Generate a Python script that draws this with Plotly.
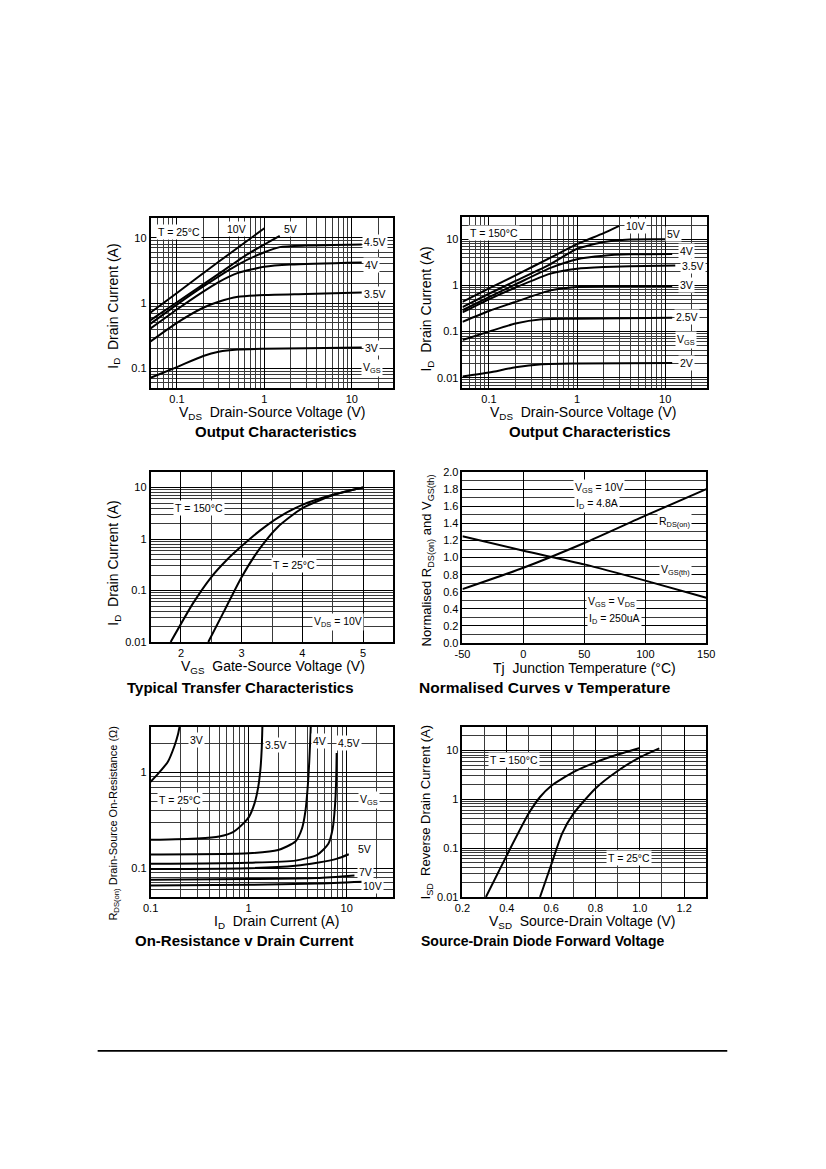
import math
import plotly.graph_objects as go

W, H = 826, 1169
FONT = "Liberation Sans, Arial, sans-serif"

# ---- Output Characteristics, T = 25C (VDS in V, ID in A) ----
oc25_vds_10v = [0.05, 0.1, 0.3, 1.0]
oc25_id_10v = [0.72, 1.43, 4.3, 14.0]
oc25_vds_5v = [0.05, 0.1, 0.3, 0.6, 1.0, 1.5]
oc25_id_5v = [0.55, 1.03, 2.8, 5.3, 7.9, 10.7]
oc25_vds_45v = [0.05, 0.1, 0.2, 0.5, 1.0, 1.5, 3.0, 13.0]
oc25_id_45v = [0.485, 0.95, 1.8, 3.9, 6.0, 7.2, 7.6, 7.9]
oc25_vds_4v = [0.05, 0.1, 0.2, 0.3, 0.5, 1.0, 2.0, 13.0]
oc25_id_4v = [0.41, 0.8, 1.5, 2.1, 2.9, 3.6, 3.9, 4.2]
oc25_vds_35v = [0.05, 0.1, 0.2, 0.3, 0.5, 1.0, 3.0, 13.0]
oc25_id_35v = [0.26, 0.5, 0.85, 1.05, 1.25, 1.33, 1.38, 1.45]
oc25_vds_3v = [0.05, 0.1, 0.2, 0.3, 0.5, 1.0, 3.0, 13.0]
oc25_id_3v = [0.072, 0.105, 0.155, 0.18, 0.195, 0.2, 0.203, 0.21]

# ---- Output Characteristics, T = 150C ----
oc150_vds_10v = [0.05, 0.1, 0.2, 0.5, 1.0, 2.0, 3.0]
oc150_id_10v = [0.44, 0.86, 1.65, 4.0, 7.8, 13.5, 19.5]
oc150_vds_5v = [0.05, 0.1, 0.2, 0.5, 1.0, 2.0, 4.0, 12.0]
oc150_id_5v = [0.34, 0.66, 1.25, 2.9, 6.2, 8.7, 9.9, 10.0]
oc150_vds_4v = [0.05, 0.1, 0.2, 0.5, 1.0, 2.0, 4.0, 12.0]
oc150_id_4v = [0.29, 0.56, 1.05, 2.4, 3.7, 4.4, 4.7, 4.8]
oc150_vds_35v = [0.05, 0.1, 0.2, 0.5, 1.0, 2.0, 4.0, 13.0]
oc150_id_35v = [0.26, 0.5, 0.9, 1.8, 2.3, 2.5, 2.6, 2.7]
oc150_vds_3v = [0.05, 0.1, 0.2, 0.5, 1.0, 2.0, 12.0]
oc150_id_3v = [0.163, 0.28, 0.44, 0.78, 0.92, 0.96, 0.97]
oc150_vds_25v = [0.05, 0.1, 0.2, 0.4, 1.0, 12.0]
oc150_id_25v = [0.066, 0.1, 0.15, 0.185, 0.19, 0.2]
oc150_vds_2v = [0.05, 0.1, 0.2, 0.4, 1.0, 12.0]
oc150_id_2v = [0.0107, 0.013, 0.017, 0.0197, 0.0204, 0.021]

# ---- Typical Transfer Characteristics (VGS in V, ID in A) ----
tr150_vgs = [1.83, 2.2, 2.5, 2.75, 3.0, 3.3, 3.6, 4.0, 4.5, 5.0]
tr150_id = [0.01, 0.057, 0.183, 0.387, 0.73, 1.46, 2.62, 4.62, 7.24, 10.0]
tr25_vgs = [2.45, 2.7, 3.0, 3.3, 3.6, 4.0, 4.5, 5.0]
tr25_id = [0.01, 0.0376, 0.184, 0.66, 1.74, 3.98, 7.1, 10.0]

# ---- Normalised curves v temperature ----
tj = [-50, 0, 50, 100, 150]
rds_norm = [0.63, 0.88, 1.17, 1.49, 1.80]
vgsth_norm = [1.25, 1.08, 0.92, 0.73, 0.53]

# ---- On-resistance v drain current (ID in A, RDS in ohm) ----
ron_id_3v = [0.1, 0.12, 0.15, 0.175, 0.19, 0.197]
ron_r_3v = [0.8, 0.98, 1.3, 1.9, 2.5, 3.0]
ron_id_35v = [0.1, 0.3, 0.5, 0.7, 0.9, 1.0, 1.15, 1.25, 1.32, 1.36, 1.38]
ron_r_35v = [0.198, 0.205, 0.215, 0.24, 0.3, 0.34, 0.48, 0.7, 1.1, 1.8, 3.0]
ron_id_4v = [0.1, 1.0, 2.0, 3.0, 3.5, 3.8, 4.0, 4.15, 4.25, 4.3]
ron_r_4v = [0.139, 0.143, 0.155, 0.19, 0.26, 0.4, 0.7, 1.3, 2.2, 3.0]
ron_id_45v = [0.1, 1.0, 3.0, 5.0, 6.5, 7.2, 7.6, 7.8, 7.9]
ron_r_45v = [0.111, 0.114, 0.12, 0.138, 0.18, 0.26, 0.45, 0.8, 1.6]
ron_id_5v = [0.1, 1.0, 3.0, 5.0, 8.0, 10.5]
ron_r_5v = [0.098, 0.1, 0.106, 0.114, 0.126, 0.14]
ron_id_7v = [0.1, 1.0, 5.0, 12.0]
ron_r_7v = [0.0755, 0.077, 0.079, 0.084]
ron_id_10v = [0.1, 1.0, 5.0, 14.5]
ron_r_10v = [0.066, 0.067, 0.069, 0.072]

# ---- Source-drain diode forward voltage (VSD in V, ISD in A) ----
sd150_vsd = [0.306, 0.4, 0.5, 0.55, 0.6, 0.7, 0.8, 0.9, 1.0]
sd150_isd = [0.01, 0.071, 0.52, 1.11, 1.87, 3.57, 5.66, 8.2, 11.2]
sd25_vsd = [0.55, 0.6, 0.65, 0.7, 0.8, 0.9, 1.0, 1.088]
sd25_isd = [0.01, 0.045, 0.2, 0.5, 1.66, 3.78, 7.2, 11.0]


# the photographed page comes out slightly shrunk about its centre,
# so page positions are pre-corrected before going to paper coords
SX, OX = 0.98, 8.3
SY, OY = 0.99, 5.8


def px(x):
    return (x - OX) / SX / W


def py(y):
    return 1 - (y - OY) / SY / H


def log_grid(lo_exp, hi_exp, stop):
    vals = []
    for e in range(lo_exp, hi_exp + 1):
        for d in range(1, 10):
            v = d * 10 ** e
            if v <= stop * 1.0001:
                vals.append(round(v, 6))
    return vals


def frame(dom, anchor):
    return dict(
        domain=dom,
        anchor=anchor,
        showline=True,
        mirror=True,
        linecolor="black",
        linewidth=1.6,
        ticks="",
        zeroline=False,
        showgrid=True,
        gridcolor="black",
        gridwidth=1.1,
        tickfont=dict(family=FONT, size=11, color="black"),
    )


def log_axis(dom, anchor, lo, hi, labels, texts, grid):
    ax = frame(dom, anchor)
    ax.update(
        type="log",
        range=[math.log10(lo), math.log10(hi)],
        tickmode="array",
        tickvals=labels,
        ticktext=texts,
        minor=dict(tickmode="array", tickvals=grid, showgrid=True,
                   gridcolor="#3a3a3a", gridwidth=0.7, ticks=""),
    )
    return ax


def lin_axis(dom, anchor, lo, hi, labels, texts, grid):
    ax = frame(dom, anchor)
    ax.update(
        type="linear",
        range=[lo, hi],
        tickmode="array",
        tickvals=labels,
        ticktext=texts,
        minor=dict(tickmode="array", tickvals=grid, showgrid=True,
                   gridcolor="#3a3a3a", gridwidth=0.8, ticks=""),
    )
    return ax


# plot boxes in page pixels (left, right, top, bottom)
boxes = {
    1: (151, 394, 218, 388),
    2: (463, 708, 217, 388),
    3: (151, 394, 472, 642),
    4: (463, 707, 472, 643),
    5: (151, 394, 727, 897),
    6: (463, 707, 727, 897),
}


def dom(n):
    l, r, t, b = boxes[n]
    return [px(l), px(r)], [py(b), py(t)]


fig = go.Figure()


def curve(n, xs, ys):
    sfx = "" if n == 1 else str(n)
    fig.add_trace(go.Scatter(
        x=xs, y=ys, mode="lines", xaxis="x" + sfx, yaxis="y" + sfx,
        line=dict(color="black", width=2, shape="spline", smoothing=0.6),
        showlegend=False, hoverinfo="skip",
    ))


for xs, ys in [(oc25_vds_10v, oc25_id_10v), (oc25_vds_5v, oc25_id_5v),
               (oc25_vds_45v, oc25_id_45v), (oc25_vds_4v, oc25_id_4v),
               (oc25_vds_35v, oc25_id_35v), (oc25_vds_3v, oc25_id_3v)]:
    curve(1, xs, ys)
for xs, ys in [(oc150_vds_10v, oc150_id_10v), (oc150_vds_5v, oc150_id_5v),
               (oc150_vds_4v, oc150_id_4v), (oc150_vds_35v, oc150_id_35v),
               (oc150_vds_3v, oc150_id_3v), (oc150_vds_25v, oc150_id_25v),
               (oc150_vds_2v, oc150_id_2v)]:
    curve(2, xs, ys)
curve(3, tr150_vgs, tr150_id)
curve(3, tr25_vgs, tr25_id)
curve(4, tj, rds_norm)
curve(4, tj, vgsth_norm)
for xs, ys in [(ron_id_3v, ron_r_3v), (ron_id_35v, ron_r_35v),
               (ron_id_4v, ron_r_4v), (ron_id_45v, ron_r_45v),
               (ron_id_5v, ron_r_5v), (ron_id_7v, ron_r_7v),
               (ron_id_10v, ron_r_10v)]:
    curve(5, xs, ys)
curve(6, sd150_vsd, sd150_isd)
curve(6, sd25_vsd, sd25_isd)

layout = dict(
    width=W, height=H,
    margin=dict(l=0, r=0, t=0, b=0),
    paper_bgcolor="white", plot_bgcolor="white",
    font=dict(family=FONT, color="black"),
)

dx, dy = dom(1)
layout["xaxis"] = log_axis(dx, "y", 0.05, 30, [0.1, 1, 10], ["0.1", "1", "10"], log_grid(-2, 1, 30))
layout["yaxis"] = log_axis(dy, "x", 0.05, 20, [0.1, 1, 10], ["0.1", "1", "10"], log_grid(-2, 1, 20))
dx, dy = dom(2)
layout["xaxis2"] = log_axis(dx, "y2", 0.05, 30, [0.1, 1, 10], ["0.1", "1", "10"], log_grid(-2, 1, 30))
layout["yaxis2"] = log_axis(dy, "x2", 0.006, 30, [0.01, 0.1, 1, 10], ["0.01", "0.1", "1", "10"], log_grid(-3, 1, 30))
dx, dy = dom(3)
layout["xaxis3"] = lin_axis(dx, "y3", 1.5, 5.5, [2, 3, 4, 5], ["2", "3", "4", "5"], [1.5, 2.5, 3.5, 4.5, 5.5])
layout["yaxis3"] = log_axis(dy, "x3", 0.01, 20, [0.01, 0.1, 1, 10], ["0.01", "0.1", "1", "10"], log_grid(-2, 1, 20))
dx, dy = dom(4)
layout["xaxis4"] = lin_axis(dx, "y4", -50, 150, [-50, 0, 50, 100, 150], ["-50", "0", "50", "100", "150"], [])
y4_ticks = [0.0, 0.2, 0.4, 0.6, 0.8, 1.0, 1.2, 1.4, 1.6, 1.8, 2.0]
layout["yaxis4"] = lin_axis(dy, "x4", 0, 2, y4_ticks, ["%.1f" % v for v in y4_ticks],
                            [0.1, 0.3, 0.5, 0.7, 0.9, 1.1, 1.3, 1.5, 1.7, 1.9])
dx, dy = dom(5)
layout["xaxis5"] = log_axis(dx, "y5", 0.1, 30, [0.1, 1, 10], ["0.1", "1", "10"], log_grid(-1, 1, 30))
layout["yaxis5"] = log_axis(dy, "x5", 0.05, 3, [0.1, 1], ["0.1", "1"], log_grid(-2, 0, 3))
dx, dy = dom(6)
x6_ticks = [0.2, 0.4, 0.6, 0.8, 1.0, 1.2]
layout["xaxis6"] = lin_axis(dx, "y6", 0.2, 1.3, x6_ticks, ["0.2", "0.4", "0.6", "0.8", "1.0", "1.2"],
                            [0.3, 0.5, 0.7, 0.9, 1.1, 1.3])
layout["yaxis6"] = log_axis(dy, "x6", 0.01, 30, [0.01, 0.1, 1, 10], ["0.01", "0.1", "1", "10"], log_grid(-2, 1, 30))

fig.update_layout(**layout)

annotations = []


def lab(n, x, y, text, size=10.5, log_x=True, log_y=True):
    sfx = "" if n == 1 else str(n)
    annotations.append(dict(
        x=math.log10(x) if log_x else x, y=math.log10(y) if log_y else y,
        xref="x" + sfx, yref="y" + sfx, text=text, showarrow=False,
        bgcolor="white", borderpad=1,
        font=dict(family=FONT, size=size, color="black"),
    ))


def page_text(x, y, text, size=14, bold=False, angle=0):
    annotations.append(dict(
        x=px(x), y=py(y), xref="paper", yref="paper",
        text="<b>%s</b>" % text if bold else text, showarrow=False,
        textangle=angle, xanchor="center", yanchor="middle",
        font=dict(family=FONT, size=size, color="black"),
    ))


# chart 1 labels
lab(1, 0.107, 12.3, "T = 25°C")
lab(1, 0.48, 13.8, "10V")
lab(1, 2.0, 13.8, "5V")
lab(1, 18.5, 8.7, "4.5V")
lab(1, 17.0, 3.8, "4V")
lab(1, 18.5, 1.39, "3.5V")
lab(1, 17.0, 0.207, "3V")
lab(1, 17.0, 0.103, "V<sub>GS</sub>")
# chart 2 labels
lab(2, 0.115, 13.5, "T = 150°C")
lab(2, 4.56, 18.9, "10V")
lab(2, 12.4, 12.9, "5V")
lab(2, 17.6, 5.66, "4V")
lab(2, 20.9, 2.6, "3.5V")
lab(2, 17.6, 1.0, "3V")
lab(2, 17.6, 0.209, "2.5V")
lab(2, 17.0, 0.066, "V<sub>GS</sub>")
lab(2, 17.6, 0.0209, "2V")
# chart 3 labels
lab(3, 2.3, 4.1, "T = 150°C", log_x=False)
lab(3, 3.86, 0.314, "T = 25°C", log_x=False)
lab(3, 4.58, 0.0244, "V<sub>DS</sub> = 10V", log_x=False)
# chart 4 labels
lab(4, 62, 1.81, "V<sub>GS</sub> = 10V", log_x=False, log_y=False)
lab(4, 60, 1.63, "I<sub>D</sub> = 4.8A", log_x=False, log_y=False)
lab(4, 124, 1.42, "R<sub>DS(on)</sub>", log_x=False, log_y=False)
lab(4, 125, 0.86, "V<sub>GS(th)</sub>", log_x=False, log_y=False)
lab(4, 72, 0.48, "V<sub>GS</sub> = V<sub>DS</sub>", log_x=False, log_y=False)
lab(4, 75, 0.285, "I<sub>D</sub> = 250uA", log_x=False, log_y=False)
# chart 5 labels
lab(5, 0.294, 2.18, "3V")
lab(5, 1.91, 1.94, "3.5V")
lab(5, 5.27, 2.15, "4V")
lab(5, 10.6, 2.05, "4.5V")
lab(5, 16.7, 0.52, "V<sub>GS</sub>")
lab(5, 0.199, 0.513, "T = 25°C")
lab(5, 15.1, 0.16, "5V")
lab(5, 15.7, 0.0908, "7V")
lab(5, 18.4, 0.0646, "10V")
# chart 6 labels
lab(6, 0.433, 6.25, "T = 150°C", log_x=False)
lab(6, 0.953, 0.063, "T = 25°C", log_x=False)

# axis titles and chart titles (page pixel positions)
page_text(272, 413, "V<sub>DS</sub>  Drain-Source Voltage (V)")
page_text(114, 306, "I<sub>D</sub>  Drain Current (A)", angle=-90)
page_text(276, 431, "Output Characteristics", size=15, bold=True)

page_text(584, 413, "V<sub>DS</sub>  Drain-Source Voltage (V)")
page_text(428, 309, "I<sub>D</sub>  Drain Current (A)", angle=-90)
page_text(591, 431, "Output Characteristics", size=15, bold=True)

page_text(273, 667, "V<sub>GS</sub>  Gate-Source Voltage (V)")
page_text(114, 563, "I<sub>D</sub>  Drain Current (A)", angle=-90)
page_text(241, 687, "Typical Transfer Characteristics", size=15, bold=True)

page_text(585, 668, "Tj  Junction Temperature (°C)")
page_text(428, 560, "Normalised R<sub>DS(on)</sub> and V<sub>GS(th)</sub>", size=13, angle=-90)
page_text(546, 687, "Normalised Curves v Temperature", size=15.5, bold=True)

page_text(277, 922, "I<sub>D</sub>  Drain Current (A)")
page_text(114, 823, "R<sub>DS(on)</sub> Drain-Source On-Resistance (Ω)", size=11, angle=-90)
page_text(244, 941, "On-Resistance v Drain Current", size=15, bold=True)

page_text(583, 922, "V<sub>SD</sub>  Source-Drain Voltage (V)")
page_text(428, 812, "I<sub>SD</sub>  Reverse Drain Current (A)", size=13, angle=-90)
page_text(543, 941, "Source-Drain Diode Forward Voltage", size=14, bold=True)

fig.update_layout(annotations=annotations)

# footer rule
fig.add_shape(type="line", xref="paper", yref="paper",
              x0=px(98), x1=px(728), y0=py(1051), y1=py(1051),
              line=dict(color="black", width=1.6))

fig.write_html(
    "out.html",
    config={"displayModeBar": False},
    post_script=("document.body.style.margin='0px';"
                 "document.body.style.overflow='hidden';"
                 "document.documentElement.style.overflow='hidden';"),
)
